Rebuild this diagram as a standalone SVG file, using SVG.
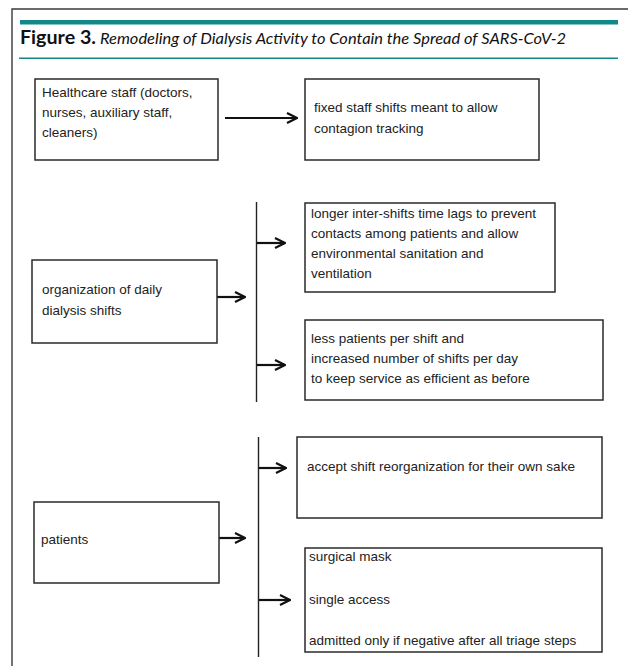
<svg xmlns="http://www.w3.org/2000/svg" width="628" height="666" viewBox="0 0 628 666">
<defs>
<style>
.frame{fill:none;stroke:#3a3a3a;stroke-width:1.4}
.box{fill:#fff;stroke:#2a2a2a;stroke-width:1.5}
.t{font-family:"Liberation Sans",Arial,sans-serif;font-size:13.5px;fill:#222}
.arr{fill:none;stroke:#111;stroke-width:2.2}
.bus{fill:none;stroke:#222;stroke-width:1.4}
.teal{fill:#12888a}
</style>
<marker id="ah" viewBox="0 0 12 12" refX="11" refY="6" markerWidth="12" markerHeight="12" markerUnits="userSpaceOnUse" orient="auto">
<path d="M1,1 L11,6 L1,11" fill="none" stroke="#111" stroke-width="2.2"/>
</marker>
</defs>
<rect width="628" height="666" fill="#fff"/>
<path class="frame" d="M12,666 L12,9 L628,9"/>
<rect class="teal" x="20" y="20" width="598" height="4.5"/>
<text x="20" y="44" font-family="Lato,'Liberation Sans',sans-serif" fill="#111"><tspan font-weight="bold" font-size="18" textLength="76" lengthAdjust="spacingAndGlyphs">Figure 3.</tspan><tspan x="100" font-style="italic" font-size="15.5" textLength="466" lengthAdjust="spacingAndGlyphs">Remodeling of Dialysis Activity to Contain the Spread of SARS-CoV-2</tspan></text>
<rect class="teal" x="19" y="57.5" width="599" height="1.5"/>

<g id="connectors">
<line class="arr" x1="225" y1="118" x2="297" y2="118" marker-end="url(#ah)"/>
<line class="bus" x1="256.5" y1="202" x2="256.5" y2="402"/>
<line class="arr" x1="217" y1="297" x2="245" y2="297" marker-end="url(#ah)"/>
<line class="arr" x1="257" y1="243" x2="285" y2="243" marker-end="url(#ah)"/>
<line class="arr" x1="257" y1="365" x2="285" y2="365" marker-end="url(#ah)"/>
<line class="bus" x1="258.5" y1="437" x2="258.5" y2="657"/>
<line class="arr" x1="218" y1="538" x2="245" y2="538" marker-end="url(#ah)"/>
<line class="arr" x1="259" y1="468" x2="286" y2="468" marker-end="url(#ah)"/>
<line class="arr" x1="259" y1="600" x2="290" y2="600" marker-end="url(#ah)"/>
</g>

<g id="staff">
<rect class="box" x="35" y="79" width="183" height="81"/>
<text class="t" x="42" y="97">Healthcare staff (doctors,</text>
<text class="t" x="42" y="117">nurses, auxiliary staff,</text>
<text class="t" x="42" y="137">cleaners)</text>
</g>
<g id="fixed-shifts">
<rect class="box" x="305" y="79" width="234" height="81"/>
<text class="t" x="314" y="112">fixed staff shifts meant to allow</text>
<text class="t" x="314" y="133">contagion tracking</text>
</g>
<g id="organization">
<rect class="box" x="32" y="260" width="185" height="83"/>
<text class="t" x="42" y="294">organization of daily</text>
<text class="t" x="42" y="315">dialysis shifts</text>
</g>
<g id="time-lags">
<rect class="box" x="305" y="203" width="250" height="89"/>
<text class="t" x="311" y="218">longer inter-shifts time lags to prevent</text>
<text class="t" x="311" y="238">contacts among patients and allow</text>
<text class="t" x="311" y="258">environmental sanitation and</text>
<text class="t" x="311" y="278">ventilation</text>
</g>
<g id="less-patients">
<rect class="box" x="305" y="320" width="298" height="80"/>
<text class="t" x="311" y="343">less patients per shift and</text>
<text class="t" x="311" y="363">increased number of shifts per day</text>
<text class="t" x="311" y="383">to keep service as efficient as before</text>
</g>
<g id="patients">
<rect class="box" x="34" y="502" width="185" height="81"/>
<text class="t" x="41" y="544">patients</text>
</g>
<g id="accept">
<rect class="box" x="297" y="437" width="305" height="81"/>
<text class="t" x="307" y="471">accept shift reorganization for their own sake</text>
</g>
<g id="measures">
<rect class="box" x="305" y="548" width="297" height="104"/>
<text class="t" x="309" y="561">surgical mask</text>
<text class="t" x="309" y="604">single access</text>
<text class="t" x="309" y="645">admitted only if negative after all triage steps</text>
</g>
</svg>
